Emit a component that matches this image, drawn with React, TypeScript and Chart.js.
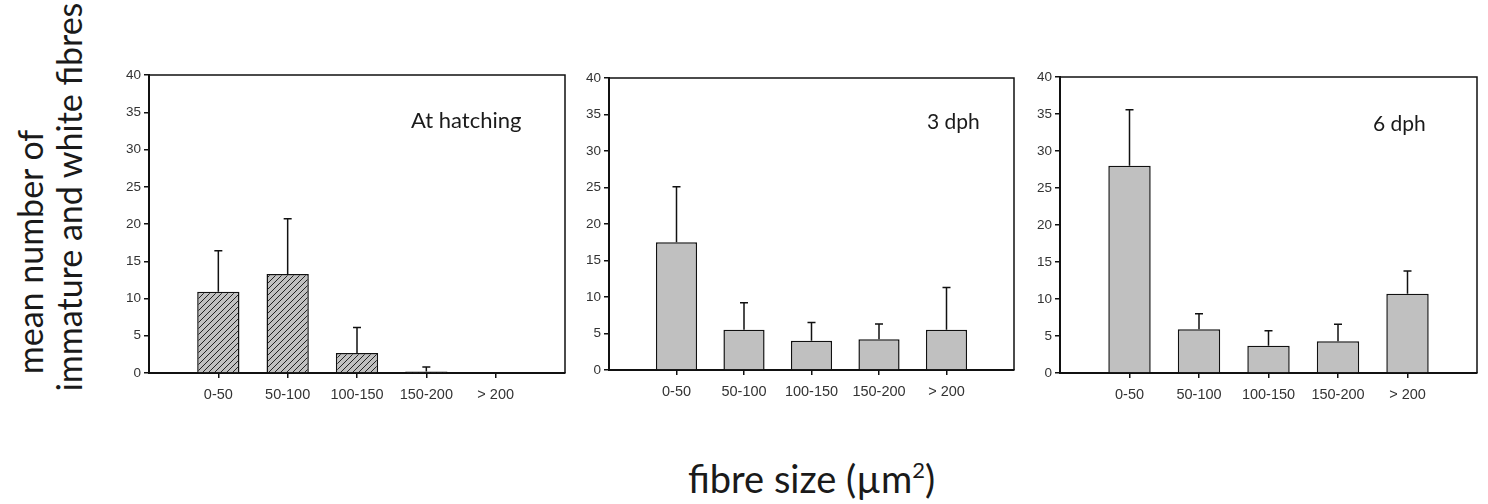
import React, { useEffect, useRef } from 'react';
import { Chart, registerables } from 'chart.js';

Chart.register(...registerables);

// ---- data ----
const CATEGORIES = ['0-50', '50-100', '100-150', '150-200', '> 200'];
const HATCHING_MEAN = [10.9, 13.3, 2.7, 0.2, 0];
const HATCHING_ERR = [5.5, 7.4, 3.4, 0.6, 0];
const DPH3_MEAN = [17.5, 5.5, 4.0, 4.2, 5.5];
const DPH3_ERR = [7.6, 3.7, 2.5, 2.1, 5.8];
const DPH6_MEAN = [28.0, 5.9, 3.7, 4.3, 10.7];
const DPH6_ERR = [7.6, 2.1, 2.0, 2.3, 3.1];
const Y_MIN = 0;
const Y_MAX = 40;
const Y_STEP = 5;
const PANEL_LABELS = ['At hatching', '3 dph', '6 dph'];
const Y_TITLE_LINES = ['mean number of', 'immature and white fibres'];
const X_TITLE = 'fibre size (µm';

const TICK_FAMILY = '"Liberation Sans", Arial, sans-serif';
const TICK_COLOR = '#333';
const LINE_COLOR = '#111';
const TITLE_FONT = 'Lato, "Open Sans", sans-serif';

type Area = { l: number; t: number; r: number; b: number };

const errorBarPlugin = {
  id: 'errorBars',
  afterDatasetsDraw(chart: any, _args: any, opts: any) {
    const errs: number[] = opts.errors || [];
    const meta = chart.getDatasetMeta(0);
    const ys = chart.scales.y;
    const ctx = chart.ctx;
    ctx.save();
    ctx.strokeStyle = LINE_COLOR;
    ctx.lineWidth = 1.5;
    meta.data.forEach((bar: any, i: number) => {
      const e = errs[i];
      if (!e) return;
      const mean = chart.data.datasets[0].data[i].y;
      const yBar = ys.getPixelForValue(mean);
      const yTop = ys.getPixelForValue(mean + e);
      ctx.beginPath();
      ctx.moveTo(bar.x, yBar);
      ctx.lineTo(bar.x, yTop);
      ctx.moveTo(bar.x - 4, yTop);
      ctx.lineTo(bar.x + 4, yTop);
      ctx.stroke();
    });
    ctx.restore();
  },
};

const boxPlugin = {
  id: 'boxFrame',
  afterDraw(chart: any) {
    const { ctx, chartArea } = chart;
    ctx.save();
    ctx.strokeStyle = LINE_COLOR;
    ctx.lineWidth = 1.5;
    ctx.beginPath();
    ctx.moveTo(chartArea.left, chartArea.top);
    ctx.lineTo(chartArea.right, chartArea.top);
    ctx.lineTo(chartArea.right, chartArea.bottom);
    ctx.stroke();
    ctx.restore();
  },
};

function makeHatch(): CanvasPattern | string {
  const c = document.createElement('canvas');
  c.width = 6;
  c.height = 6;
  const g = c.getContext('2d');
  if (!g) return '#c0c0c0';
  g.fillStyle = '#c0c0c0';
  g.fillRect(0, 0, 6, 6);
  g.strokeStyle = '#222';
  g.lineWidth = 1;
  g.beginPath();
  g.moveTo(0, 6);
  g.lineTo(6, 0);
  g.moveTo(-1, 1);
  g.lineTo(1, -1);
  g.moveTo(5, 7);
  g.lineTo(7, 5);
  g.stroke();
  const p = g.createPattern(c, 'repeat');
  return p || '#c0c0c0';
}

const YAXIS_W = 40;
const XAXIS_H = 40;
const PAD = 10;

function Panel({ area, mean, err, hatch }: { area: Area; mean: number[]; err: number[]; hatch: boolean }) {
  const ref = useRef<HTMLCanvasElement | null>(null);
  const width = area.r - area.l + YAXIS_W + PAD;
  const height = area.b - area.t + XAXIS_H + PAD;

  useEffect(() => {
    if (!ref.current) return;
    const fill = hatch ? makeHatch() : '#c0c0c0';
    const chart = new Chart(ref.current, {
      type: 'bar',
      data: {
        datasets: [
          {
            data: mean.map((v, i) => ({ x: i + 1, y: v })),
            backgroundColor: fill as any,
            borderColor: LINE_COLOR,
            borderWidth: 1.5,
            barPercentage: 0.61,
            categoryPercentage: 1,
          },
        ],
      },
      options: {
        responsive: false,
        maintainAspectRatio: false,
        animation: false,
        devicePixelRatio: 1,
        layout: { padding: { top: PAD, right: PAD, left: 0, bottom: 0 } },
        plugins: {
          legend: { display: false },
          tooltip: { enabled: false },
          errorBars: { errors: err },
        } as any,
        scales: {
          x: {
            type: 'linear',
            offset: false,
            min: 0,
            max: CATEGORIES.length + 1,
            afterBuildTicks: (axis: any) => {
              axis.ticks = CATEGORIES.map((_, i) => ({ value: i + 1 }));
            },
            afterFit: (s: any) => {
              s.height = XAXIS_H;
            },
            ticks: {
              autoSkip: false,
              maxRotation: 0,
              padding: 8,
              font: { family: TICK_FAMILY, size: 14.5 },
              color: TICK_COLOR,
              callback: (v: any) => CATEGORIES[Number(v) - 1] ?? '',
            },
            grid: { offset: false, drawOnChartArea: false, drawTicks: true, tickLength: 5, color: LINE_COLOR, lineWidth: 1.5 },
            border: { display: true, color: LINE_COLOR, width: 2 },
          },
          y: {
            min: Y_MIN,
            max: Y_MAX,
            afterFit: (s: any) => {
              s.width = YAXIS_W;
            },
            ticks: { stepSize: Y_STEP, padding: 3, font: { family: TICK_FAMILY, size: 13.5 }, color: TICK_COLOR },
            grid: { drawOnChartArea: false, drawTicks: true, tickLength: 5, color: LINE_COLOR, lineWidth: 1.5 },
            border: { display: true, color: LINE_COLOR, width: 2 },
          },
        },
      } as any,
      plugins: [errorBarPlugin, boxPlugin],
    });
    return () => chart.destroy();
  }, []);

  return (
    <canvas
      ref={ref}
      width={width}
      height={height}
      style={{ position: 'absolute', left: area.l - YAXIS_W, top: area.t - PAD, width, height }}
    />
  );
}

const AREAS: Area[] = [
  { l: 149, t: 74, r: 565, b: 373 },
  { l: 609, t: 77, r: 1014, b: 370 },
  { l: 1060, t: 76, r: 1477, b: 373 },
];

const labelStyle = (left: number, top: number, size: number): React.CSSProperties => ({
  position: 'absolute',
  left,
  top,
  fontFamily: TITLE_FONT,
  fontSize: size,
  lineHeight: 1,
  color: '#1a1a1a',
  whiteSpace: 'nowrap',
});

const rotStyle = (cx: number, cy: number, size: number): React.CSSProperties => ({
  position: 'absolute',
  left: cx,
  top: cy,
  transform: 'translate(-50%, -50%) rotate(-90deg)',
  fontFamily: TITLE_FONT,
  fontSize: size,
  lineHeight: 1,
  color: '#1a1a1a',
  whiteSpace: 'nowrap',
});

export default function App() {
  return (
    <div style={{ position: 'absolute', left: 0, top: 0, width: 1488, height: 504, background: '#fff', overflow: 'hidden' }}>
      <Panel area={AREAS[0]} mean={HATCHING_MEAN} err={HATCHING_ERR} hatch={true} />
      <Panel area={AREAS[1]} mean={DPH3_MEAN} err={DPH3_ERR} hatch={false} />
      <Panel area={AREAS[2]} mean={DPH6_MEAN} err={DPH6_ERR} hatch={false} />
      <div style={labelStyle(411, 109, 22)}>{PANEL_LABELS[0]}</div>
      <div style={labelStyle(927, 110, 21)}>{PANEL_LABELS[1]}</div>
      <div style={labelStyle(1373, 112, 21)}>{PANEL_LABELS[2]}</div>
      <div style={rotStyle(30, 252, 34)}>{Y_TITLE_LINES[0]}</div>
      <div style={rotStyle(69, 197, 34)}>{Y_TITLE_LINES[1]}</div>
      <div style={labelStyle(688, 459, 38)}>
        {X_TITLE}
        <span style={{ fontSize: 22, verticalAlign: 'top', position: 'relative', top: 0 }}>2</span>)
      </div>
    </div>
  );
}
